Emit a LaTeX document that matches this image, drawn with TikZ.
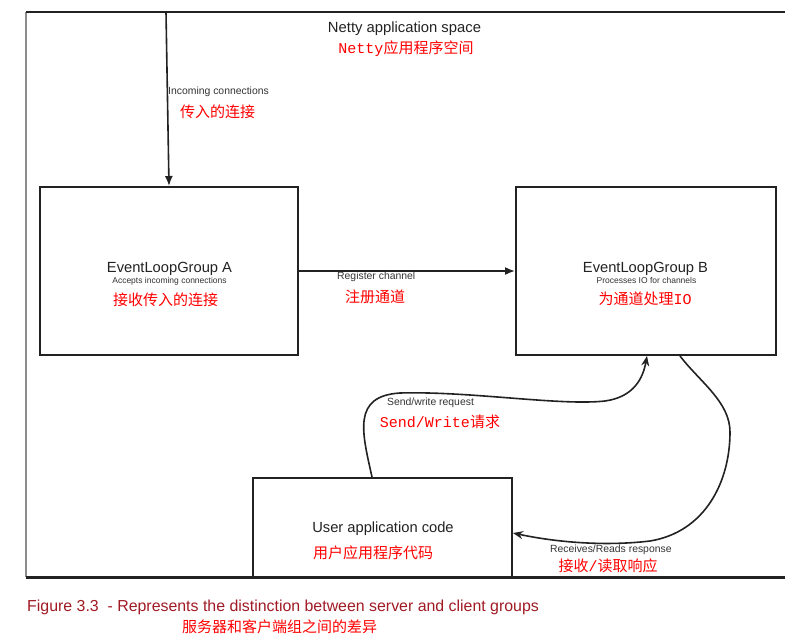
\documentclass[tikz,border=0pt]{standalone}
\usepackage{fontspec}
\setmainfont{Liberation Sans}
\newfontfamily\cjk{Noto Sans CJK SC}
\newfontfamily\mono{Liberation Mono}
\usetikzlibrary{arrows.meta,calc}
\definecolor{ink}{HTML}{222222}
\definecolor{lbl}{HTML}{333333}
\definecolor{capred}{HTML}{A01A24}
\definecolor{zh}{HTML}{FF0000}
\tikzset{
  box/.style={draw=ink, line width=2pt, inner sep=0pt, fill=white},
  big/.style={text=ink, inner sep=0pt, font=\fontsize{14.7}{17}\selectfont},
  tiny/.style={text=lbl, inner sep=0pt, font=\fontsize{8.5}{10}\selectfont},
  lab/.style={text=lbl, inner sep=0pt, font=\fontsize{10.4}{12}\selectfont},
  red/.style={text=zh, inner sep=0pt, font=\fontsize{15}{18}\selectfont},
  straightarrow/.style={draw=ink, line width=1.6pt, -{Latex[length=10pt,width=8pt]}},
  curvearrow/.style={draw=ink, line width=1.6pt, -{Stealth[length=10pt,width=8pt]}},
}
\begin{document}
\begin{tikzpicture}[x=1pt,y=-1pt]
\useasboundingbox (0,0) rectangle (785,642);
% frame
\draw[draw={rgb,255:red,140;green,140;blue,140}, line width=1.2pt] (26,12) -- (26,577);
\draw[draw=ink, line width=2pt] (26,12) -- (785,12);

% boxes
\node[box, minimum width=258pt, minimum height=168pt] (A) at (169,271) {};
\node[box, minimum width=260pt, minimum height=168pt] (B) at (646,271) {};
\node[box, minimum width=259pt, minimum height=100pt] (U) at (382.5,528) {};
\draw[draw=ink, line width=2.2pt] (26,577.5) -- (785,577.5);

% titles
\node[big, anchor=base] (title) at (404.5,33) {\fontsize{14.8}{17}\selectfont Netty application space};
\node[red] (titlezh) at (406,49) {{\mono Netty}{\cjk 应用程序空间}};

% incoming
\coordinate (in) at (166,12);
\draw[straightarrow] (in) -- (A.north);
\node[lab, anchor=base west] (inlab) at (168,95) {Incoming connections};
\node[red, anchor=west] (inlabzh) at (180,111.5) {\cjk 传入的连接};

% box A texts
\node[big, anchor=base] (Aname) at (169.5,272.3) {EventLoopGroup A};
\node[tiny, anchor=base] (Adesc) at (169.5,283) {Accepts incoming connections};
\node[red] (Azh) at (165.5,300) {\cjk 接收传入的连接};

% box B texts
\node[big, anchor=base] (Bname) at (645.5,272.3) {EventLoopGroup B};
\node[tiny, anchor=base] (Bdesc) at (646.5,283) {Processes IO for channels};
\node[red] (Bzh) at (645,298.5) {{\cjk 为通道处理}{\mono IO}};

% register
\draw[straightarrow] (A.east) -- (B.west);
\node[lab, anchor=base west] (reglab) at (337,279.8) {Register channel};
\node[red] (regzh) at (375,297) {\cjk 注册通道};

% user box texts
\node[big, anchor=base] (Uname) at (383,532.2) {User application code};
\node[red] (Uzh) at (373,553) {\cjk 用户应用程序代码};

% send/write curve
\draw[curvearrow] ($(U.north west)+(120,0)$) .. controls (362,432) and (352,396) .. (400,393)
  .. controls (470,391) and (560,406) .. (605,401)
  .. controls (634,397) and (643,378) .. ([xshift=1pt]B.south);
\node[lab, anchor=base west] (sendlab) at (387,405.7) {Send/write request};
\node[red] (sendzh) at (440,422) {{\mono Send/Write}{\cjk 请求}};

% receive curve
\draw[curvearrow] ([xshift=34pt]B.south) .. controls (700,382) and (730,402) .. (730,432)
  .. controls (730,482) and (705,532) .. (650,541)
  .. controls (600,547) and (550,541) .. ([yshift=-5pt]U.east);
\node[lab, anchor=base west] (recvlab) at (550,552.5) {Receives/Reads response};
\node[red] (recvzh) at (608,566) {{\cjk 接收}{\mono /}{\cjk 读取响应}};

% caption
\node[text=capred, inner sep=0pt, anchor=base west, font=\fontsize{15.9}{19}\selectfont] (cap) at (27,611) {Figure 3.3\ \ - Represents the distinction between server and client groups};
\node[red] (capzh) at (279.5,627) {\cjk 服务器和客户端组之间的差异};
\end{tikzpicture}
\end{document}
